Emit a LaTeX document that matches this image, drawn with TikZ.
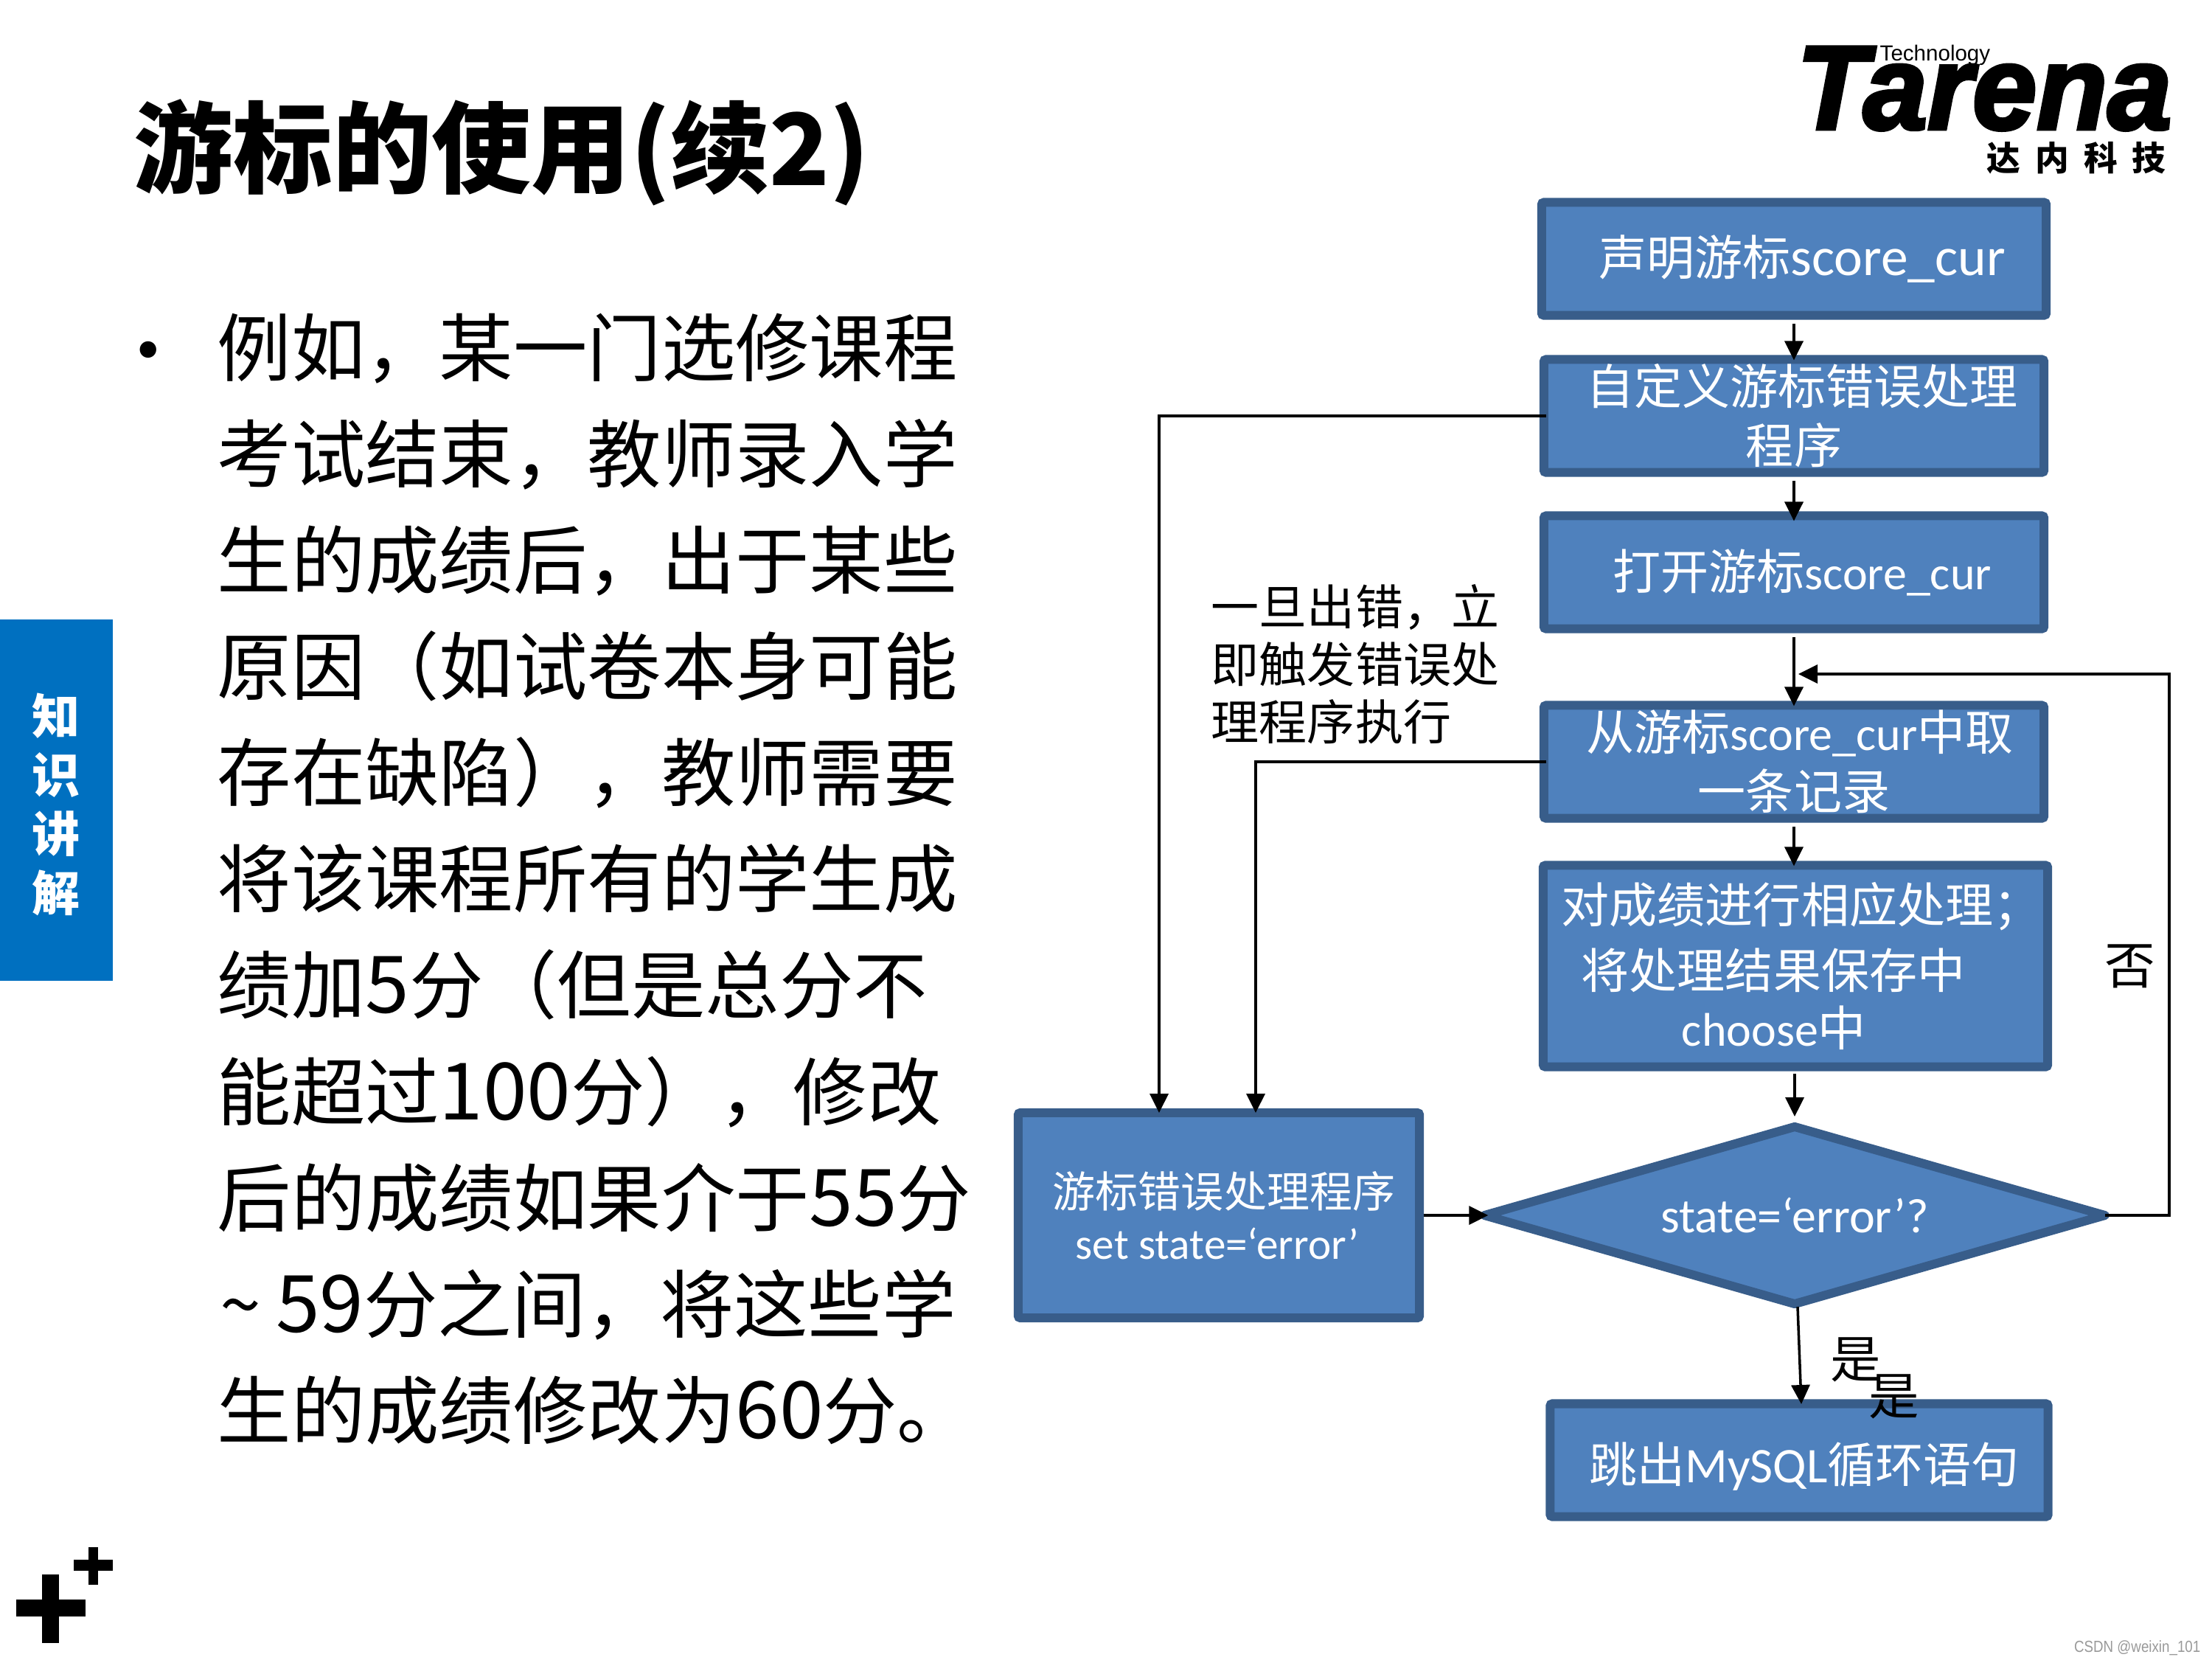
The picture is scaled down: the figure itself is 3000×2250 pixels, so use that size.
\documentclass[tikz,border=0pt]{standalone}
\usepackage{fontspec}
\setmainfont{Carlito}[Scale=1.13]
\newfontfamily\cjk{Noto Sans CJK SC}
\newfontfamily\logofont{Liberation Sans}[BoldItalicFeatures={FakeBold=3}]
\usetikzlibrary{arrows.meta,shapes.geometric}
\definecolor{fcfill}{HTML}{4F81BD}
\definecolor{fcedge}{HTML}{385D8A}
\definecolor{tabblue}{HTML}{0070C0}
\newcommand{\zh}[1]{{\cjk #1}}
\newcommand{\lat}[1]{{\fontsize{16.1}{22.8}\selectfont #1}}
\newcommand{\dg}[1]{{\fontsize{30.5}{40.97}\selectfont #1}}
\tikzset{
  fcbox/.style={draw=fcedge, fill=fcfill, line width=.12cm, rounded corners=.03cm, inner sep=0pt,
    text=white, align=center, font=\fontsize{18.5}{22.8}\selectfont},
  fcdia/.style={diamond, aspect=3.5, draw=fcedge, fill=fcfill, line width=.12cm, line join=round, inner sep=0pt, outer sep=0pt,
    minimum width=8.41cm, minimum height=2.40cm, text=white, font=\fontsize{16.6}{20}\selectfont},
  note/.style={inner sep=0pt, align=left, font=\cjk\fontsize{18.5}{22.2}\selectfont},
  flow/.style={line width=.035cm, -{Triangle[length=.26cm,width=.25cm]}},
}
\begin{document}
\begin{tikzpicture}[x=.01cm,y=-.01cm]
\useasboundingbox (0,0) rectangle (3000,2250);
\node[anchor=west, inner sep=0pt, font=\cjk\bfseries\fontsize{38.3}{40}\selectfont] (title) at (181,207) {游标的使用(续2)};
\fill[tabblue] (0,840) rectangle (153,1330);
\node[inner sep=0pt, text=white, align=center, font=\cjk\bfseries\fontsize{18.5}{22.8}\selectfont] (tab) at (76,1091) {知\\识\\讲\\解};
\node[inner sep=0pt, font=\cjk\fontsize{30}{41}\selectfont] (dot) at (201,489) {•};
\node[anchor=west, inner sep=0pt, align=left, font=\cjk\fontsize{28.55}{40.97}\selectfont] (body) at (294,1192) {例如，某一门选修课程\\考试结束，教师录入学\\生的成绩后，出于某些\\原因（如试卷本身可能\\存在缺陷），教师需要\\将该课程所有的学生成\\绩加\dg{5}分（但是总分不\\能超过\dg{100}分），修改\\后的成绩如果介于\dg{55}分\\\hspace*{.04cm}\textasciitilde\hspace{.2cm}\dg{59}分之间，将这些学\\生的成绩修改为\dg{60}分。};
\node[anchor=base west, inner sep=0pt, font=\logofont\bfseries\itshape\fontsize{46}{46}\selectfont] (tarena) at (2436,175) {\scalebox{.97}[1]{Tarena}};
\node[anchor=north west, inner sep=0pt, font=\logofont\fontsize{8.4}{9}\selectfont] (tech) at (2549,60) {Technology};
\node[anchor=west, inner sep=0pt, font=\cjk\bfseries\fontsize{13}{14}\selectfont] (dana) at (2694,214) {达\hspace{.2cm}内\hspace{.2cm}科\hspace{.2cm}技};
% flow boxes
\node[fcbox, minimum width=6.84cm, minimum height=1.53cm] (decl) at (2433,351) {\hspace*{.22cm}\zh{声明游标}score\_cur};
\node[fcbox, minimum width=6.78cm, minimum height=1.53cm] (errdef) at (2433,564) {\hspace*{.22cm}\zh{自定义游标错误处理}\\\zh{程序}};
\node[fcbox, minimum width=6.78cm, minimum height=1.53cm] (opencur) at (2433,776) {\hspace*{.22cm}\zh{打开游标}\lat{score\_cur}};
\node[fcbox, minimum width=6.78cm, minimum height=1.53cm] (fetch) at (2433,1033) {\hspace*{.16cm}\zh{从游标}\lat{score\_cur}\zh{中取}\\\zh{一条记录}};
\node[fcbox, minimum width=6.84cm, minimum height=2.73cm] (handle) at (2435,1310) {\hspace*{.16cm}\zh{对成绩进行相应处理；}\\[.08cm]\hspace*{-.6cm}\zh{将处理结果保存中}\\[-.02cm]\hspace*{-.58cm}\lat{choose}\zh{中}};
\node[fcbox, minimum width=5.44cm, minimum height=2.78cm, font=\fontsize{16.5}{19.9}\selectfont] (lefterr) at (1653,1648) {\hspace*{.14cm}\zh{游标错误处理程序}\\\hspace*{-.04cm}{\fontsize{14.9}{19.9}\selectfont set state=‘error’}};
\node[fcdia] (check) at (2434,1648) {state=‘error’?};
\node[fcbox, minimum width=6.75cm, minimum height=1.53cm] (leave) at (2440,1980) {\rule{0pt}{.72cm}\hspace*{.14cm}\zh{跳出}{\fontsize{17}{22.8}\selectfont MySQL}\zh{循环语句}};
% free ends
\coordinate (errin) at (1572,1509);
\coordinate (fetchin) at (1703,1509);
\coordinate (loopa) at (2942,1648);
\coordinate (loopb) at (2942,914);
\coordinate (looptip) at (2439,914);
\coordinate (checkin) at (2434,1514);
\coordinate (handleout) at (2434,1456);
\coordinate (checkout) at (2438,1772);
\coordinate (leavein) at (2443,1904);
\draw[flow, shorten <=.05cm, shorten >=-.07cm] (decl) -- (errdef);
\draw[flow, shorten <=.05cm, shorten >=-.13cm] (errdef) -- (opencur);
\draw[flow, shorten <=.05cm, shorten >=-.07cm] (opencur) -- (fetch);
\draw[flow, shorten <=.05cm, shorten >=-.07cm] (fetch) -- (handle.north -| fetch);
\draw[flow] (handleout) -- (checkin);
\draw[flow] (checkout) -- (leavein);
\draw[flow, shorten >=-.05cm] (lefterr) -- (check);
\draw[flow, shorten <=-.09cm] (errdef.west) -| (errin);
\draw[flow, shorten <=-.09cm] (fetch.west) -| (fetchin);
\draw[flow] (check.east) -- (loopa) -- (loopb) -- (looptip);
\node[note] (errnote) at (1838,901) {一旦出错，立\\即触发错误处\\理程序执行};
\node[inner sep=0pt, font=\cjk\fontsize{19.5}{20}\selectfont] (no) at (2889,1310) {否};
\node[inner sep=0pt, font=\cjk\fontsize{19.5}{20}\selectfont] (yesa) at (2517,1844) {是};
\node[inner sep=0pt, font=\cjk\fontsize{19.5}{20}\selectfont] (yesb) at (2569,1894) {是};
\node[anchor=south east, inner sep=0pt, text=gray!80, font=\logofont\fontsize{6.2}{7}\selectfont] (mark) at (2985,2245) {\scalebox{.86}[1]{CSDN @weixin\_101}};
% corner crosses
\fill (22,2169) rectangle (116,2192);
\fill (57,2135) rectangle (80,2228);
\fill (100,2115) rectangle (153,2130);
\fill (120,2098) rectangle (133,2149);
\end{tikzpicture}
\end{document}
